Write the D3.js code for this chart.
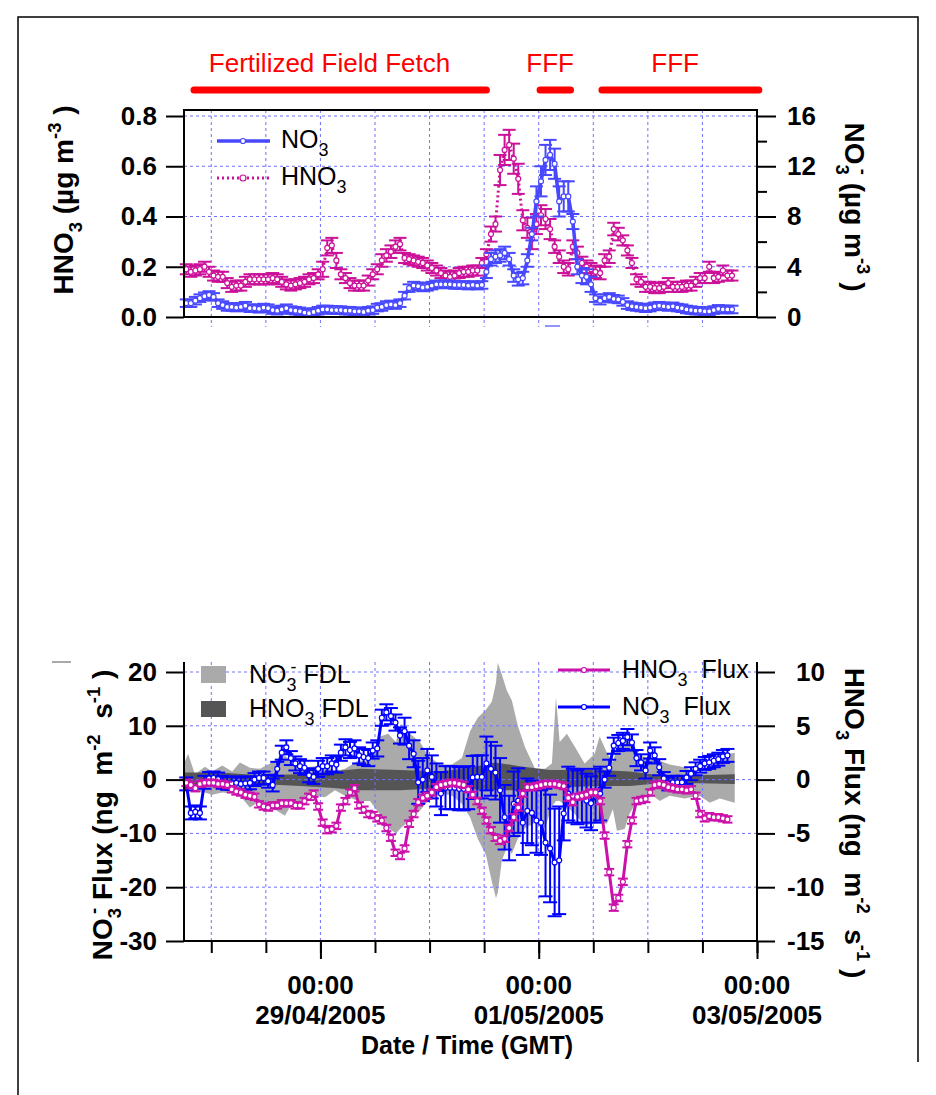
<!DOCTYPE html>
<html>
<head>
<meta charset="utf-8">
<script src="https://cdn.jsdelivr.net/npm/d3@7"></script>
<style>
  body { margin: 0; background: #fff; }
  svg text { font-family: "Liberation Sans", Arial, sans-serif; white-space: pre; }
</style>
</head>
<body>
<svg id="chart" width="936" height="1095"></svg>
<script>
/* ----------  DATA (hourly samples from 27/04/2005 18:30 GMT)  ---------- */
const hno3Conc = [
  0.19, 0.18, 0.185, 0.19, 0.2, 0.18, 0.165, 0.16, 0.16, 0.135,
  0.12, 0.125, 0.125, 0.14, 0.15, 0.15, 0.15, 0.15, 0.15, 0.155,
  0.15, 0.14, 0.13, 0.125, 0.13, 0.135, 0.14, 0.15, 0.155, 0.17,
  0.19, 0.275, 0.285, 0.225, 0.17, 0.155, 0.135, 0.125, 0.125, 0.125,
  0.145, 0.17, 0.19, 0.225, 0.245, 0.26, 0.28, 0.29, 0.235, 0.23,
  0.225, 0.22, 0.215, 0.205, 0.195, 0.185, 0.175, 0.165, 0.16, 0.165,
  0.175, 0.18, 0.18, 0.185, 0.185, 0.215, 0.25, 0.33, 0.37, 0.585,
  0.665, 0.685, 0.63, 0.55, 0.385, 0.355, 0.31, 0.37, 0.405, 0.39,
  0.35, 0.28, 0.24, 0.2, 0.19, 0.28, 0.255, 0.215, 0.2, 0.19,
  0.18, 0.175, 0.225, 0.24, 0.35, 0.33, 0.305, 0.265, 0.215, 0.15,
  0.14, 0.12, 0.12, 0.115, 0.115, 0.12, 0.135, 0.12, 0.12, 0.12,
  0.125, 0.125, 0.14, 0.155, 0.155, 0.2, 0.155, 0.16, 0.185, 0.165, 0.165
]
const hno3ConcErr = [
  0.02, 0.02, 0.02, 0.02, 0.02, 0.02, 0.02, 0.02, 0.02, 0.02,
  0.02, 0.02, 0.02, 0.02, 0.02, 0.02, 0.02, 0.02, 0.02, 0.02,
  0.02, 0.02, 0.02, 0.02, 0.02, 0.02, 0.02, 0.02, 0.02, 0.02,
  0.03, 0.03, 0.03, 0.03, 0.02, 0.02, 0.02, 0.02, 0.02, 0.02,
  0.02, 0.02, 0.02, 0.025, 0.025, 0.025, 0.025, 0.025, 0.02, 0.02,
  0.02, 0.02, 0.02, 0.02, 0.02, 0.02, 0.02, 0.02, 0.02, 0.02,
  0.02, 0.02, 0.02, 0.02, 0.02, 0.02, 0.02, 0.03, 0.03, 0.06,
  0.06, 0.06, 0.06, 0.06, 0.04, 0.04, 0.04, 0.04, 0.04, 0.04,
  0.04, 0.025, 0.025, 0.025, 0.025, 0.025, 0.025, 0.025, 0.025, 0.025,
  0.025, 0.025, 0.025, 0.025, 0.025, 0.025, 0.02, 0.02, 0.02, 0.02,
  0.02, 0.02, 0.02, 0.02, 0.02, 0.02, 0.02, 0.02, 0.02, 0.02,
  0.02, 0.02, 0.02, 0.02, 0.02, 0.02, 0.02, 0.02, 0.02, 0.02, 0.02
]
const no3Conc = [
  1.1, 1.1, 1.3, 1.5, 1.65, 1.75, 1.6, 1.1, 0.95, 0.8,
  0.8, 0.75, 0.8, 0.9, 0.7, 0.7, 0.65, 0.75, 0.7, 0.55,
  0.5, 0.6, 0.7, 0.55, 0.5, 0.45, 0.35, 0.3, 0.4, 0.5,
  0.6, 0.6, 0.55, 0.55, 0.55, 0.5, 0.5, 0.45, 0.45, 0.4,
  0.5, 0.55, 0.75, 0.8, 0.95, 1.0, 0.95, 1.1, 1.7, 2.3,
  2.5, 2.45, 2.35, 2.4, 2.5, 2.6, 2.6, 2.6, 2.6, 2.55,
  2.55, 2.55, 2.5, 2.55, 2.5, 2.55, 3.6, 4.6, 4.8, 4.9,
  5.1, 4.6, 3.3, 3.0, 3.1, 4.5, 6.6, 9.2, 10.8, 12.5,
  12.9, 12.2, 9.2, 9.6, 9.6, 7.6, 4.0, 3.3, 3.2, 2.6,
  1.5, 1.3, 1.5, 1.6, 1.45, 1.4, 1.2, 0.95, 0.85, 0.8,
  0.75, 0.7, 0.75, 0.85, 0.9, 0.85, 0.8, 0.85, 0.75, 0.7,
  0.6, 0.55, 0.5, 0.5, 0.45, 0.45, 0.55, 0.65, 0.6, 0.6, 0.6
]
const no3ConcErr = [
  0.3, 0.3, 0.3, 0.3, 0.3, 0.3, 0.3, 0.3, 0.3, 0.3,
  0.3, 0.3, 0.3, 0.3, 0.3, 0.3, 0.3, 0.3, 0.3, 0.3,
  0.3, 0.3, 0.3, 0.3, 0.3, 0.3, 0.3, 0.3, 0.3, 0.3,
  0.3, 0.3, 0.3, 0.3, 0.3, 0.3, 0.3, 0.3, 0.3, 0.3,
  0.3, 0.3, 0.3, 0.3, 0.3, 0.3, 0.3, 0.3, 0.3, 0.3,
  0.3, 0.3, 0.3, 0.3, 0.3, 0.3, 0.3, 0.3, 0.3, 0.3,
  0.3, 0.3, 0.3, 0.3, 0.3, 0.3, 0.5, 0.5, 0.5, 0.5,
  0.5, 0.5, 0.5, 0.5, 0.5, 0.5, 0.5, 1.2, 1.2, 1.2,
  1.2, 1.2, 1.2, 1.2, 1.2, 0.6, 0.6, 0.6, 0.6, 0.6,
  0.3, 0.3, 0.3, 0.3, 0.3, 0.3, 0.3, 0.3, 0.3, 0.3,
  0.3, 0.3, 0.3, 0.3, 0.3, 0.3, 0.3, 0.3, 0.3, 0.3,
  0.3, 0.3, 0.3, 0.3, 0.3, 0.3, 0.3, 0.3, 0.3, 0.3, 0.3
]

// fluxes: NO3 on the left axis, HNO3 on the right axis
const no3Flux = [
  -0.8, -6.2, -6.0, -6.2, -0.5, 0.2, 0.3, 0.1, -0.5, -0.7,
  -0.7, -0.6, -0.8, -0.7, -0.6, 0.0, 0.3, 0.3, -0.3, -1.0,
  2.0, 5.0, 6.0, 4.0, 3.0, 2.5, 2.2, 0.8, 0.5, 2.0,
  2.5, 2.5, 3.0, 2.8, 5.0, 6.0, 5.5, 5.8, 4.5, 4.2,
  4.0, 5.4, 5.8, 11.5, 12.5, 11.8, 10.6, 8.2, 9.0, 6.3,
  4.8, -0.5, 0.0, 1.7, 0.5, -1.0, -2.6, -1.5, -1.5, -1.5,
  -1.7, -1.7, -1.5, 0.4, 0.5, 0.5, 3.0, 2.0, 1.3, -2.0,
  -7.0, -9.0, -4.5, -3.9, -8.0, -5.8, -6.2, -7.6, -8.0, -11.7,
  -12.8, -15.4, -15.0, -6.3, -2.6, -3.0, -3.3, -3.0, -3.9, -4.4,
  -3.0, -2.6, 0.0, 2.2, 6.3, 6.8, 7.2, 7.9, 6.9, 4.0,
  3.2, 1.7, 5.4, 4.5, 2.3, 0.2, -0.8, -0.5, -0.5, -0.5,
  0.4, 1.1, 2.0, 2.5, 3.0, 3.2, 3.5, 3.8, 4.3, 4.5
]
const no3FluxErr = [
  1.2, 1.2, 1.2, 1.2, 1.2, 1.2, 1.2, 1.2, 1.2, 1.2,
  1.2, 1.2, 1.2, 1.2, 1.2, 1.2, 1.2, 1.2, 1.2, 1.2,
  1.3, 1.3, 1.3, 1.3, 1.3, 1.3, 1.3, 1.3, 1.3, 1.5,
  1.5, 1.5, 1.5, 1.5, 1.5, 1.5, 1.5, 1.5, 1.5, 1.5,
  1.5, 1.5, 1.5, 1.5, 1.5, 1.5, 1.5, 1.5, 2.5, 2.5,
  2.5, 4, 4, 4, 4, 4, 4, 4, 4, 4,
  4, 4, 4, 4, 4, 4, 5, 5, 5, 6,
  6, 6, 6, 6, 6, 6, 6, 6, 6, 10,
  10, 10, 10, 5, 5, 5, 5, 5, 5, 5,
  5, 5, 1.5, 1.5, 1.5, 1.5, 1.5, 1.5, 1.5, 1.5,
  1.5, 1.5, 1.5, 1.5, 1.5, 1.2, 1.2, 1.2, 1.2, 1.2,
  1.2, 1.2, 1.2, 1.2, 1.2, 1.2, 1.2, 1.2, 1.2, 1.2
]
const hno3Flux = [
  -0.3, -0.5, -0.8, -0.4, -0.3, -0.3, -0.3, -0.4, -0.4, -0.5,
  -0.9, -1.1, -1.2, -1.4, -1.5, -1.6, -2.3, -2.5, -2.6, -2.4,
  -2.4, -2.2, -2.2, -2.2, -2.4, -2.4, -2.0, -1.6, -1.3, -2.5,
  -4.0, -4.7, -4.6, -4.3, -2.6, -2.0, -1.2, -0.8, -2.4, -2.8,
  -3.2, -3.3, -3.6, -3.8, -4.5, -5.4, -6.8, -7.1, -6.4, -4.1,
  -3.2, -2.1, -1.7, -1.5, -1.2, -0.7, -0.5, -0.4, -0.3, -0.3,
  -0.4, -0.5, -0.9, -1.4, -2.0, -2.9, -3.8, -4.7, -5.4, -5.7,
  -5.5, -4.5, -3.5, -2.6, -1.3, -0.7, -0.7, -0.6, -0.5, -0.4,
  -0.4, -0.4, -0.5, -0.6, -1.7, -2.1, -1.6, -1.5, -1.4, -1.2,
  -1.2, -2.0, -5.2, -8.6, -11.9, -11.0, -9.5, -6.0, -3.8, -2.0,
  -1.9, -1.8, -1.2, -0.5, -0.4, -0.5, -0.7, -0.8, -0.9, -0.9,
  -1.0, -0.9, -1.5, -3.2, -3.6, -3.4, -3.5, -3.5, -3.6, -3.7
]
const hno3FluxErr = 0.3

// flux detection limits, hours after 27/04/2005 18:00 GMT
const no3FdlHours = [0, 0.9, 2.4, 4.6, 6.2, 8.4, 10.6, 12.3, 14.5, 16.7, 18.9, 22.2, 23.7, 26.2, 28.8, 31, 33.2, 35.4, 38.3, 40.9,
  43.1, 44.9, 46.6, 47.7, 49.7, 51.9, 53.6, 56.3, 58.9, 61.1, 62.9, 64.6, 66.4, 67.7, 68.6, 69, 69.9, 71, 72.1, 73.4,
  75, 77.2, 79.4, 80.9, 81.8, 82.6, 84.2, 86, 88.1, 90.3, 91.4, 93, 94.3, 95.2, 96.9, 98, 100.2, 102.4, 104.6, 106.8,
  110.1, 113.4, 115.6, 117.8, 121.1]
const no3FdlHigh = [3, 4.8, 1, 2.4, 1.5, 2.6, 1.5, 3.2, 2.2, 2, 3, 4.5, 3, 2.2, 2.5, 2.5, 1.5, 2, 3.5, 3.5,
  8, 8.5, 7, 10.4, 8.5, 7, 4.5, 2.8, 2.8, 4, 9, 11.5, 13, 14.5, 18, 21.7, 19.5, 16.5, 14.7, 10,
  6, 2, 2, 3, 15.3, 7, 8.5, 6, 3, 4.8, 8, 5, 3.2, 6, 7.8, 7, 4.5, 4, 3.5, 2.8,
  2.3, 1, 2, 4.5, 5]
const no3FdlLow = [-1, -1.5, -2, -2.4, -2.8, -2.4, -2.6, -3, -5.2, -4, -5, -6.7, -4.5, -4, -3, -3.3, -2, -3, -4, -4,
  -6.5, -9, -10, -9, -7.5, -5.8, -4, -2.5, -3, -4.5, -7, -11, -14, -19, -22, -21, -15, -12.6, -13.8, -11,
  -9, -8, -9, -5, -4, -4, -5, -6.5, -8.5, -8.2, -8, -8.2, -5.5, -9.5, -9.2, -6.3, -3.2, -2.5, -4, -3,
  -3.5, -3, -4.3, -3.5, -4.3]
const hno3FdlHours = [0, 7.9, 16.7, 25.5, 32.1, 38.7, 47.5, 56.3, 62.9, 68.4, 73.8, 80.4, 91.4, 98, 104.6, 113.4, 121.1]
const hno3FdlHigh = [0.65, 0.65, 0.4, 0.5, 0.75, 1, 0.9, 0.75, 1.1, 1.6, 1.25, 0.9, 0.9, 0.75, 0.4, 0.4, 0.5]
const hno3FdlLow = [-0.5, -0.6, -0.4, -0.6, -0.75, -1, -1, -0.8, -0.9, -1, -1, -0.75, -0.6, -0.6, -0.35, -0.35, -0.4]

const concTicksL = [0, 0.2, 0.4, 0.6, 0.8]
const concTicksR = [0, 4, 8, 12, 16]
const fluxTicksL = [-30, -20, -10, 0, 10, 20]
const fluxTicksR = [-15, -10, -5, 0, 5, 10]
const fetchPeriods = [
  { label: 'Fertilized Field Fetch', from: 2.2, to: 66.5, labelH: 32 },
  { label: 'FFF', from: 78.3, to: 85, labelH: 80.5 },
  { label: 'FFF', from: 91.9, to: 126.4, labelH: 108 }
]

/* ----------  SCALES  ---------- */
const HOUR = 3600e3
const T0 = Date.UTC(2005, 3, 27, 18, 0)
const atHour = h => new Date(T0 + h * HOUR)
const sampleTime = i => atHour(0.5 + i)

const x = d3.scaleUtc().domain([atHour(0), atHour(126)]).range([184, 757])
const yTopL = d3.scaleLinear().domain([0, 0.8]).range([317, 116])
const yTopR = d3.scaleLinear().domain([0, 16]).range([317, 116])
const yBotL = d3.scaleLinear().domain([-30, 20]).range([941, 672])
const yBotR = d3.scaleLinear().domain([-15, 10]).range([941, 672])

const X0 = 184, X1 = 757
const TOP_Y0 = 110, TOP_Y1 = 317
const BOT_Y0 = 662, BOT_Y1 = 941

const C_NO3 = '#4848ff'
const C_HNO3 = '#cc1199'
const C_NO3F = '#0000ff'
const C_HNO3F = '#cc11aa'
const C_GRID = '#7070ff'

const svg = d3.select('#chart')

/* ----------  HELPERS  ---------- */
// text made of pieces: [string, 'sub' | 'sup' | null, dx]
function rich (parent, parts, size, weight, small = 0.66) {
  const t = parent.append('text')
    .attr('xml:space', 'preserve')
    .style('font-size', size + 'px')
    .style('font-weight', weight)
    .attr('fill', '#000')
  let shift = 0
  parts.forEach(([str, kind, dx]) => {
    const target = kind === 'sub' ? size * 0.32 : kind === 'sup' ? -size * 0.42 : 0
    t.append('tspan')
      .attr('dy', target - shift)
      .attr('dx', dx || 0)
      .style('font-size', (kind ? size * small : size) + 'px')
      .text(str)
    shift = target
  })
  return t
}

function styleAxis (g, size) {
  g.select('.domain').remove()
  g.selectAll('.tick line').attr('stroke', '#000').attr('stroke-width', 2)
  g.selectAll('.tick text')
    .attr('fill', '#000')
    .style('font-size', size + 'px')
    .style('font-weight', 'bold')
    .style('font-family', '"Liberation Sans", Arial, sans-serif')
}

function drawSeries (g, values, errs, yScale, color, opt) {
  const pts = values.map((v, i) => ({ t: sampleTime(i), v, e: Array.isArray(errs) ? errs[i] : errs }))
  const eb = g.append('g').attr('stroke', color).attr('stroke-width', opt.ebWidth)
  pts.forEach(p => {
    const cx = x(p.t)
    const lo = yScale(p.v - p.e)
    const hi = yScale(p.v + p.e)
    eb.append('line').attr('x1', cx).attr('x2', cx).attr('y1', lo).attr('y2', hi)
    eb.append('line').attr('x1', cx - opt.cap).attr('x2', cx + opt.cap).attr('y1', lo).attr('y2', lo)
    eb.append('line').attr('x1', cx - opt.cap).attr('x2', cx + opt.cap).attr('y1', hi).attr('y2', hi)
  })
  g.append('path')
    .datum(pts)
    .attr('fill', 'none')
    .attr('stroke', color)
    .attr('stroke-width', opt.lineWidth)
    .attr('stroke-dasharray', opt.dash || null)
    .attr('stroke-linejoin', 'round')
    .attr('d', d3.line().x(p => x(p.t)).y(p => yScale(p.v)))
  g.append('g').selectAll('circle')
    .data(pts)
    .join('circle')
    .attr('cx', p => x(p.t))
    .attr('cy', p => yScale(p.v))
    .attr('r', 2.5)
    .attr('fill', '#fff')
    .attr('stroke', color)
    .attr('stroke-width', 1.2)
}

const halfDays = x.ticks(d3.utcHour.every(12))
const labelDays = x.ticks(d3.utcDay.every(2))

/* ----------  PAGE FRAME  ---------- */
svg.append('path')
  .attr('d', 'M18,1095 V17 H918 V1062')
  .attr('fill', 'none')
  .attr('stroke', '#000')
  .attr('stroke-width', 1.5)

/* ----------  FETCH BARS  ---------- */
const fetchG = svg.append('g')
fetchPeriods.forEach(p => {
  fetchG.append('line')
    .attr('x1', x(atHour(p.from))).attr('x2', x(atHour(p.to)))
    .attr('y1', 90).attr('y2', 90)
    .attr('stroke', '#ff0000').attr('stroke-width', 7).attr('stroke-linecap', 'round')
  fetchG.append('text')
    .attr('x', x(atHour(p.labelH))).attr('y', 72)
    .attr('text-anchor', 'middle')
    .style('font-size', '26px')
    .attr('fill', '#ff0000')
    .text(p.label)
})

/* ----------  TOP PANEL  ---------- */
const topPanel = svg.append('g')

// grid
topPanel.append('g').selectAll('line')
  .data(concTicksL.filter(d => d > 0))
  .join('line')
  .attr('x1', X0).attr('x2', X1)
  .attr('y1', d => yTopL(d)).attr('y2', d => yTopL(d))
  .attr('stroke', C_GRID).attr('stroke-width', 1).attr('stroke-dasharray', '3,3')
topPanel.append('g').selectAll('line')
  .data(halfDays.filter(d => x(d) < X1 - 1))
  .join('line')
  .attr('x1', d => x(d)).attr('x2', d => x(d))
  .attr('y1', TOP_Y0).attr('y2', 327)
  .attr('stroke', C_GRID).attr('stroke-width', 1).attr('stroke-dasharray', '3,3')

drawSeries(topPanel, hno3Conc, hno3ConcErr, yTopL, C_HNO3, { ebWidth: 2, cap: 6.5, lineWidth: 3, dash: '2,3' })
drawSeries(topPanel, no3Conc, no3ConcErr, yTopR, C_NO3, { ebWidth: 2, cap: 6.5, lineWidth: 3.5 })

// frame
topPanel.append('path')
  .attr('d', `M${X0},${TOP_Y1} V${TOP_Y0} H${X1} V${TOP_Y1} M${X0},${TOP_Y1} H${X1}`)
  .attr('fill', 'none').attr('stroke', '#000').attr('stroke-width', 2)

topPanel.append('g').attr('transform', `translate(${X0},0)`)
  .call(d3.axisLeft(yTopL).tickValues(concTicksL).tickFormat(d3.format('.1f')).tickSize(18).tickPadding(9))
  .call(g => styleAxis(g, 26))
topPanel.append('g').attr('transform', `translate(${X1},0)`)
  .call(d3.axisRight(yTopR).tickValues(concTicksR).tickFormat(d => String(d)).tickSize(19).tickPadding(11))
  .call(g => styleAxis(g, 26))
topPanel.append('g').attr('transform', `translate(${X1},0)`)
  .call(d3.axisRight(yTopR).tickValues(concTicksR.slice(0, -1).map((d, i) => (d + concTicksR[i + 1]) / 2)).tickFormat('').tickSize(10))
  .call(g => styleAxis(g, 26))

topPanel.append('line').attr('x1', 545).attr('x2', 560).attr('y1', 326).attr('y2', 326)
  .attr('stroke', C_GRID).attr('stroke-width', 1.5)

// legend
const lgTop = topPanel.append('g')
lgTop.append('line').attr('x1', 217).attr('x2', 270).attr('y1', 141).attr('y2', 141)
  .attr('stroke', C_NO3).attr('stroke-width', 3.5)
lgTop.append('circle').attr('cx', 243).attr('cy', 141).attr('r', 2.5)
  .attr('fill', '#fff').attr('stroke', C_NO3).attr('stroke-width', 1.2)
lgTop.append('line').attr('x1', 217).attr('x2', 270).attr('y1', 178).attr('y2', 178)
  .attr('stroke', C_HNO3).attr('stroke-width', 3).attr('stroke-dasharray', '2,3')
lgTop.append('circle').attr('cx', 243).attr('cy', 178).attr('r', 3)
  .attr('fill', '#fff').attr('stroke', C_HNO3).attr('stroke-width', 1.2)
rich(lgTop, [['NO'], ['3', 'sub']], 25, 'normal', 0.72).attr('x', 281).attr('y', 148)
rich(lgTop, [['HNO'], ['3', 'sub']], 25, 'normal', 0.72).attr('x', 281).attr('y', 185)

// axis titles
rich(svg.append('g').attr('transform', 'translate(73,200) rotate(-90)'),
  [['HNO'], ['3', 'sub'], [' (µg m'], ['-3', 'sup'], [' )']], 28, 'bold')
  .attr('text-anchor', 'middle')
rich(svg.append('g').attr('transform', 'translate(845,207) rotate(90)'),
  [['NO'], ['3', 'sub'], ['-', 'sup', -6], [' (µg m'], ['-3', 'sup'], [' )']], 28, 'bold')
  .attr('text-anchor', 'middle')

/* ----------  BOTTOM PANEL  ---------- */
const bot = svg.append('g')

const fdlNo3 = no3FdlHours.map((h, i) => ({ t: atHour(h), hi: no3FdlHigh[i], lo: no3FdlLow[i] }))
const fdlHno3 = hno3FdlHours.map((h, i) => ({ t: atHour(h), hi: hno3FdlHigh[i], lo: hno3FdlLow[i] }))
bot.append('path').datum(fdlNo3)
  .attr('fill', '#aaaaaa')
  .attr('d', d3.area().x(d => x(d.t)).y0(d => yBotL(d.lo)).y1(d => yBotL(d.hi)))
bot.append('path').datum(fdlHno3)
  .attr('fill', '#555555')
  .attr('d', d3.area().x(d => x(d.t)).y0(d => yBotR(d.lo)).y1(d => yBotR(d.hi)))

// grid
bot.append('g').selectAll('line')
  .data(fluxTicksL.filter(d => d > -30))
  .join('line')
  .attr('x1', X0).attr('x2', X1)
  .attr('y1', d => yBotL(d)).attr('y2', d => yBotL(d))
  .attr('stroke', C_GRID).attr('stroke-width', 1).attr('stroke-dasharray', '3,3')
bot.append('g').selectAll('line')
  .data(halfDays.filter(d => x(d) < X1 - 1))
  .join('line')
  .attr('x1', d => x(d)).attr('x2', d => x(d))
  .attr('y1', BOT_Y0).attr('y2', BOT_Y1)
  .attr('stroke', C_GRID).attr('stroke-width', 1).attr('stroke-dasharray', '3,3')

drawSeries(bot, no3Flux, no3FluxErr, yBotL, C_NO3F, { ebWidth: 2, cap: 7, lineWidth: 3 })
drawSeries(bot, hno3Flux, hno3FluxErr, yBotR, C_HNO3F, { ebWidth: 2, cap: 5, lineWidth: 3 })

// axes
bot.append('path')
  .attr('d', `M${X0},${BOT_Y0} V${BOT_Y1} H${X1} V${BOT_Y0}`)
  .attr('fill', 'none').attr('stroke', '#000').attr('stroke-width', 2)
bot.append('g').attr('transform', `translate(${X0},0)`)
  .call(d3.axisLeft(yBotL).tickValues(fluxTicksL).tickFormat(d => String(d)).tickSize(18).tickPadding(9))
  .call(g => styleAxis(g, 26))
bot.append('g').attr('transform', `translate(${X1},0)`)
  .call(d3.axisRight(yBotR).tickValues(fluxTicksR).tickFormat(d => String(d)).tickSize(18).tickPadding(21))
  .call(g => styleAxis(g, 26))
  .call(g => g.selectAll('.tick text').attr('x', d => d < 0 ? 30 : 39))
bot.append('g').attr('transform', `translate(0,${BOT_Y1})`)
  .call(d3.axisBottom(x).tickValues(halfDays).tickFormat('').tickSize(12))
  .call(g => styleAxis(g, 26))
bot.append('g').attr('transform', `translate(0,${BOT_Y1})`)
  .call(d3.axisBottom(x).tickValues(labelDays).tickFormat('').tickSize(18))
  .call(g => styleAxis(g, 26))

const dateLabels = bot.append('g')
  .attr('text-anchor', 'middle')
  .style('font-size', '26px')
  .style('font-weight', 'bold')
labelDays.forEach(d => {
  dateLabels.append('text').attr('x', x(d)).attr('y', 994).text(d3.utcFormat('%H:%M')(d))
  dateLabels.append('text').attr('x', x(d)).attr('y', 1024).text(d3.utcFormat('%d/%m/%Y')(d))
})
bot.append('text')
  .attr('x', 467).attr('y', 1054)
  .attr('text-anchor', 'middle')
  .style('font-size', '25px')
  .style('font-weight', 'bold')
  .text('Date / Time (GMT)')

bot.append('line').attr('x1', 52).attr('x2', 71).attr('y1', 662).attr('y2', 662)
  .attr('stroke', '#555').attr('stroke-width', 1)

// legends
const lgBot = bot.append('g')
lgBot.append('rect').attr('x', 201).attr('y', 666).attr('width', 25).attr('height', 17).attr('fill', '#aaaaaa')
lgBot.append('rect').attr('x', 201).attr('y', 701).attr('width', 25).attr('height', 16).attr('fill', '#555555')
rich(lgBot, [['NO'], ['3', 'sub'], ['-', 'sup', -6], [' FDL']], 25, 'normal', 0.72).attr('x', 249).attr('y', 683)
rich(lgBot, [['HNO'], ['3', 'sub'], [' FDL']], 25, 'normal', 0.72).attr('x', 249).attr('y', 717)

lgBot.append('line').attr('x1', 558).attr('x2', 610).attr('y1', 670).attr('y2', 670)
  .attr('stroke', C_HNO3F).attr('stroke-width', 3)
lgBot.append('circle').attr('cx', 584).attr('cy', 670).attr('r', 2.5)
  .attr('fill', '#fff').attr('stroke', C_HNO3F).attr('stroke-width', 1.2)
lgBot.append('line').attr('x1', 558).attr('x2', 610).attr('y1', 707).attr('y2', 707)
  .attr('stroke', C_NO3F).attr('stroke-width', 3)
lgBot.append('circle').attr('cx', 584).attr('cy', 707).attr('r', 2.5)
  .attr('fill', '#fff').attr('stroke', C_NO3F).attr('stroke-width', 1.2)
rich(lgBot, [['HNO'], ['3', 'sub'], ['  Flux']], 25, 'normal', 0.72).attr('x', 622).attr('y', 678)
rich(lgBot, [['NO'], ['3', 'sub'], ['  Flux']], 25, 'normal', 0.72).attr('x', 622).attr('y', 715)

// axis titles
rich(svg.append('g').attr('transform', 'translate(112,815) rotate(-90)'),
  [['NO'], ['3', 'sub'], ['-', 'sup', -6], [' Flux (ng  m'], ['-2', 'sup'], ['  s'], ['-1', 'sup'], [' )']], 28, 'bold')
  .attr('text-anchor', 'middle')
rich(svg.append('g').attr('transform', 'translate(845,823) rotate(90)'),
  [['HNO'], ['3', 'sub'], [' Flux (ng  m'], ['-2', 'sup'], ['  s'], ['-1', 'sup'], [' )']], 28, 'bold')
  .attr('text-anchor', 'middle')
</script>
</body>
</html>
